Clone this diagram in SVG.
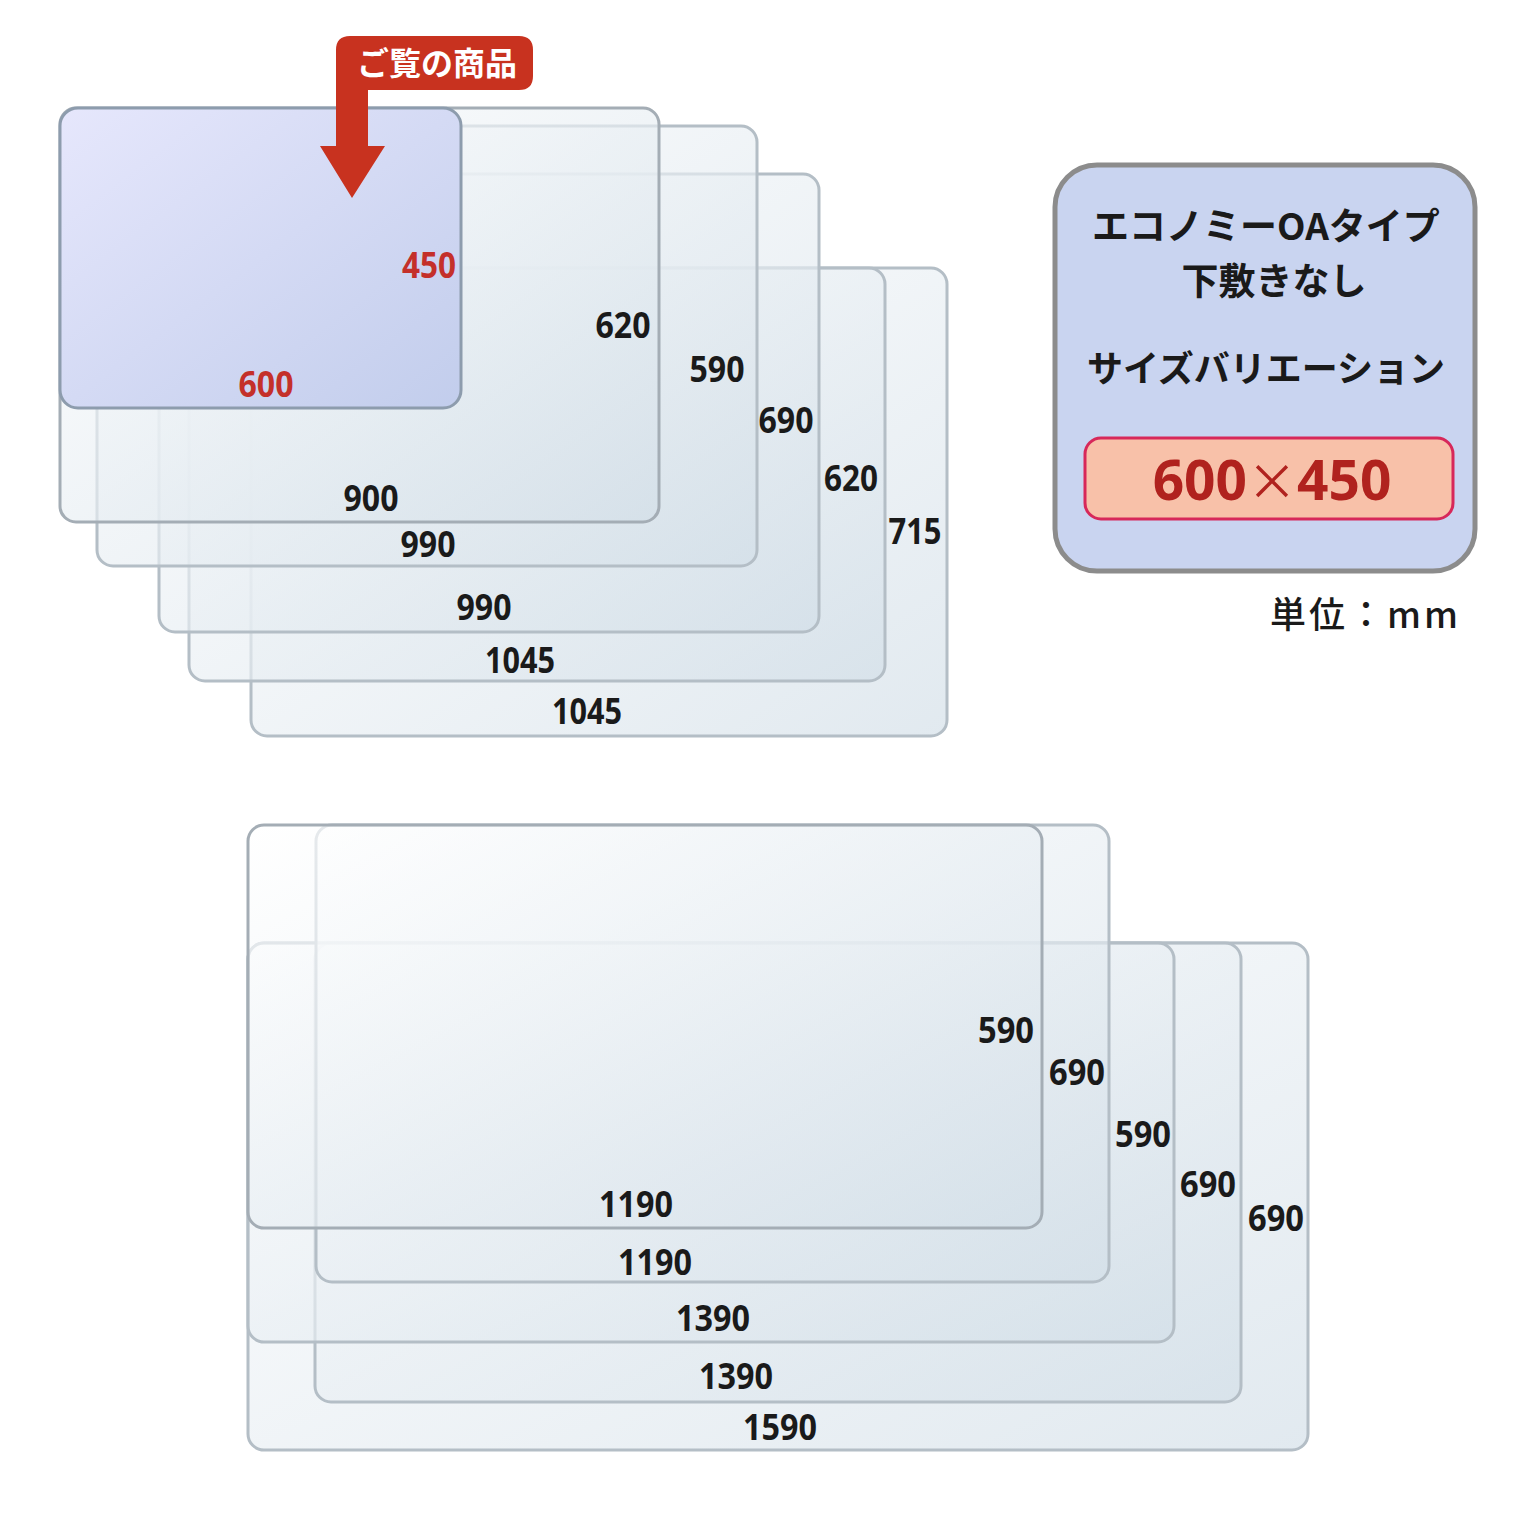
<svg xmlns="http://www.w3.org/2000/svg" width="1520" height="1520" viewBox="0 0 1520 1520">
<defs>
<linearGradient id="sheet" x1="0" y1="0" x2="1" y2="1">
<stop offset="0" stop-color="#ffffff"/>
<stop offset="1" stop-color="#d3dfe8"/>
</linearGradient>
<linearGradient id="sel" x1="0" y1="0" x2="1" y2="1">
<stop offset="0" stop-color="#e6e7fc"/>
<stop offset="1" stop-color="#c2cdec"/>
</linearGradient>
<style>
.sheet{fill:url(#sheet);fill-opacity:0.68;stroke:#b4bec6;stroke-width:3}
.front{stroke:#a4adb5}
.sel{fill:url(#sel);stroke:#8d9cad;stroke-width:3}
.num{font-family:"Open Sans","Liberation Sans",sans-serif;font-weight:700;font-size:35px;fill:#1a1a1a;text-anchor:middle}
.red{fill:#c4302a}
.jp{font-family:"Noto Sans CJK JP",sans-serif;font-weight:700;fill:#1a1a1a;text-anchor:middle}
</style>
</defs>
<rect width="1520" height="1520" fill="#ffffff"/>

<g id="top-sheets">
<g id="sheet-1045x715"><rect class="sheet" x="251" y="268" width="696" height="468" rx="16"/><text class="num" x="915" y="544" textLength="53" lengthAdjust="spacingAndGlyphs">715</text><text class="num" x="587" y="724" textLength="70" lengthAdjust="spacingAndGlyphs">1045</text></g>
<g id="sheet-1045x620"><rect class="sheet" x="189" y="268" width="696" height="413" rx="16"/><text class="num" x="851" y="491" textLength="54" lengthAdjust="spacingAndGlyphs">620</text><text class="num" x="520" y="673" textLength="70" lengthAdjust="spacingAndGlyphs">1045</text></g>
<g id="sheet-990x690"><rect class="sheet" x="159" y="174" width="660" height="458" rx="16"/><text class="num" x="786" y="433" textLength="55" lengthAdjust="spacingAndGlyphs">690</text><text class="num" x="484" y="620" textLength="55" lengthAdjust="spacingAndGlyphs">990</text></g>
<g id="sheet-990x590"><rect class="sheet" x="97" y="126" width="660" height="440" rx="16"/><text class="num" x="717" y="382" textLength="55" lengthAdjust="spacingAndGlyphs">590</text><text class="num" x="428" y="557" textLength="55" lengthAdjust="spacingAndGlyphs">990</text></g>
<g id="sheet-900x620"><rect class="sheet front" x="60" y="108" width="599" height="414" rx="16"/><text class="num" x="623" y="338" textLength="55" lengthAdjust="spacingAndGlyphs">620</text><text class="num" x="371" y="511" textLength="55" lengthAdjust="spacingAndGlyphs">900</text></g>
<g id="sheet-600x450"><rect class="sel" x="60" y="108" width="401" height="300" rx="18"/><text class="num red" x="429" y="278" textLength="54" lengthAdjust="spacingAndGlyphs">450</text><text class="num red" x="266" y="397" textLength="55" lengthAdjust="spacingAndGlyphs">600</text></g>
</g>

<g id="callout">
<path d="M336,146 L336,50 Q336,36 350,36 L519,36 Q533,36 533,50 L533,76 Q533,90 519,90 L368,90 L368,146 L385,146 L352,198 L320,146 Z" fill="#c8321f"/>
<text class="jp" x="437" y="75" font-size="32" style="fill:#ffffff">ご覧の商品</text>
</g>

<g id="bottom-sheets">
<g id="sheet-1590x690"><rect class="sheet" x="248" y="943" width="1060" height="507" rx="16"/><text class="num" x="1276" y="1231" textLength="56" lengthAdjust="spacingAndGlyphs">690</text><text class="num" x="780" y="1440" textLength="74" lengthAdjust="spacingAndGlyphs">1590</text></g>
<g id="sheet-1390x690"><rect class="sheet" x="315" y="943" width="926" height="459" rx="16"/><text class="num" x="1208" y="1197" textLength="56" lengthAdjust="spacingAndGlyphs">690</text><text class="num" x="736" y="1389" textLength="74" lengthAdjust="spacingAndGlyphs">1390</text></g>
<g id="sheet-1390x590"><rect class="sheet" x="248" y="943" width="926" height="399" rx="16"/><text class="num" x="1143" y="1147" textLength="56" lengthAdjust="spacingAndGlyphs">590</text><text class="num" x="713" y="1331" textLength="74" lengthAdjust="spacingAndGlyphs">1390</text></g>
<g id="sheet-1190x690"><rect class="sheet" x="316" y="825" width="793" height="457" rx="16"/><text class="num" x="1077" y="1085" textLength="56" lengthAdjust="spacingAndGlyphs">690</text><text class="num" x="655" y="1275" textLength="74" lengthAdjust="spacingAndGlyphs">1190</text></g>
<g id="sheet-1190x590"><rect class="sheet front" x="248" y="825" width="794" height="403" rx="16"/><text class="num" x="1006" y="1043" textLength="56" lengthAdjust="spacingAndGlyphs">590</text><text class="num" x="636" y="1217" textLength="74" lengthAdjust="spacingAndGlyphs">1190</text></g>
</g>

<g id="info-box">
<rect x="1055" y="165" width="420" height="406" rx="42" fill="#c9d4f0" stroke="#8c8c8c" stroke-width="5"/>
<text class="jp" x="1266" y="240" font-size="37">エコノミーOAタイプ</text>
<text class="jp" x="1274" y="295" font-size="37">下敷きなし</text>
<text class="jp" x="1266" y="382" font-size="36">サイズバリエーション</text>
<rect x="1085" y="438" width="368" height="81" rx="16" fill="#f8c1a9" stroke="#d7285a" stroke-width="3"/>
<text x="1272" y="500" font-family="Open Sans, Liberation Sans, sans-serif" font-weight="700" font-size="55" fill="#b0221e" text-anchor="middle">600<tspan font-family="Noto Sans CJK JP, sans-serif" font-weight="400" font-size="50">×</tspan>450</text>
</g>

<text id="unit" x="1270" y="628" font-family="Noto Sans CJK JP, sans-serif" font-weight="500" font-size="36" fill="#1a1a1a" textLength="188" lengthAdjust="spacing">単位：mm</text>
</svg>
